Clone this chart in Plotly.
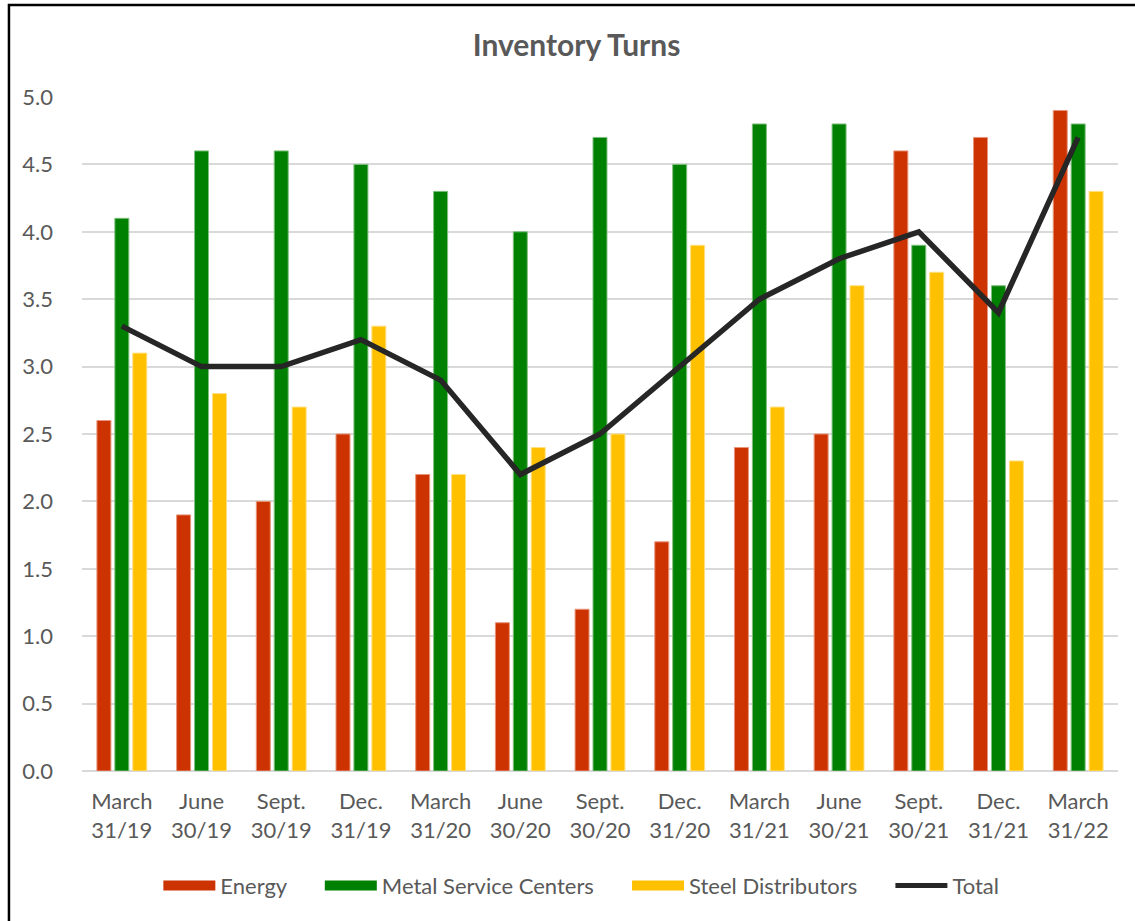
import plotly.graph_objects as go

# Quarter-end periods shown on the category axis
periods = ["March<br>31/19", "June<br>30/19", "Sept.<br>30/19", "Dec.<br>31/19",
           "March<br>31/20", "June<br>30/20", "Sept.<br>30/20", "Dec.<br>31/20",
           "March<br>31/21", "June<br>30/21", "Sept.<br>30/21", "Dec.<br>31/21",
           "March<br>31/22"]

energy = [2.6, 1.9, 2.0, 2.5, 2.2, 1.1, 1.2, 1.7, 2.4, 2.5, 4.6, 4.7, 4.9]
metal_service_centers = [4.1, 4.6, 4.6, 4.5, 4.3, 4.0, 4.7, 4.5, 4.8, 4.8, 3.9, 3.6, 4.8]
steel_distributors = [3.1, 2.8, 2.7, 3.3, 2.2, 2.4, 2.5, 3.9, 2.7, 3.6, 3.7, 2.3, 4.3]
total = [3.3, 3.0, 3.0, 3.2, 2.9, 2.2, 2.5, 3.0, 3.5, 3.8, 4.0, 3.4, 4.7]

y_ticks = [0.0, 0.5, 1.0, 1.5, 2.0, 2.5, 3.0, 3.5, 4.0, 4.5, 5.0]

bar_series = [
    ("Energy", energy, "#CC3300", "#E8957A"),
    ("Metal Service Centers", metal_service_centers, "#008000", "#7FBF7F"),
    ("Steel Distributors", steel_distributors, "#FFC000", "#FFE080"),
]

FONT = "Lato, Carlito, Calibri, sans-serif"
TEXT = "#595959"
PAD = "\u00a0" * 5  # spacing after each legend label

fig = go.Figure()

for name, vals, color, edge in bar_series:
    fig.add_trace(go.Bar(
        x=periods, y=vals, name=name, marker_color=color,
        marker_line=dict(color=edge, width=1),
        legendgroup=name, showlegend=False,
    ))

fig.add_trace(go.Scatter(
    x=periods, y=total, name="Total", mode="lines",
    line=dict(color="#262626", width=5.5),
    legendgroup="Total", showlegend=False,
))

# Wide legend swatches for each series
for name, _, color, _ in bar_series:
    fig.add_trace(go.Scatter(
        x=[None], y=[None], name=name + PAD, mode="lines",
        line=dict(color=color, width=14), legendgroup=name,
    ))
fig.add_trace(go.Scatter(
    x=[None], y=[None], name="Total", mode="lines",
    line=dict(color="#262626", width=5), legendgroup="Total",
))

fig.update_layout(
    width=1135, height=921,
    margin=dict(l=82, r=17, t=97, b=150),
    paper_bgcolor="white", plot_bgcolor="white",
    font=dict(family=FONT, color=TEXT, size=22),
    title=dict(text="<b>Inventory Turns</b>", x=0.508, xanchor="center",
               y=0.951, yanchor="middle",
               font=dict(family=FONT, size=30, color=TEXT)),
    barmode="group", bargap=0.325, bargroupgap=0.22,
    showlegend=True,
    legend=dict(orientation="h", x=0.482, xanchor="center", y=-0.17, yanchor="middle",
                font=dict(size=22, color=TEXT), itemwidth=52,
                traceorder="normal", bgcolor="rgba(0,0,0,0)"),
    xaxis=dict(showgrid=False, showline=False, ticks="", tickfont=dict(size=22),
               zeroline=False, ticklabelstandoff=15),
    yaxis=dict(range=[0, 5], tickvals=y_ticks, tickformat=".1f",
               showgrid=True, gridcolor="#D9D9D9", gridwidth=2,
               zeroline=True, zerolinecolor="#D9D9D9", zerolinewidth=2,
               showline=False, ticks="", ticklabelstandoff=28,
               tickfont=dict(size=22)),
    shapes=[dict(type="rect", xref="paper", yref="paper",
                 x0=-0.0705, x1=1.03, y0=-0.25, y1=1.1365,
                 line=dict(color="black", width=2.5), layer="above")],
)

fig.write_html("out.html")
